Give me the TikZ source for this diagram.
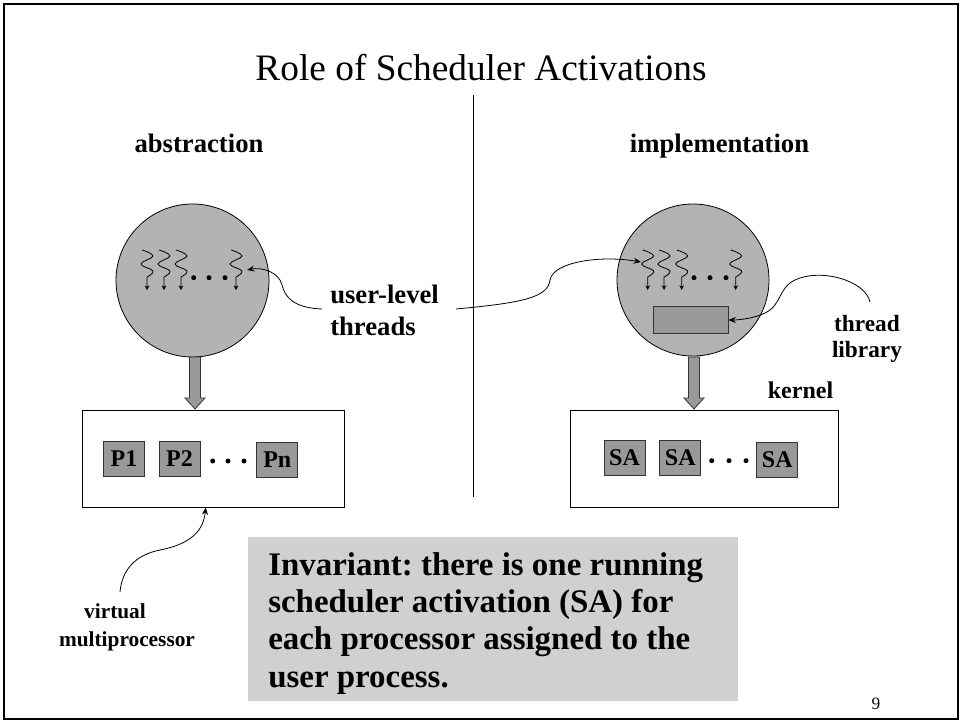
\documentclass[tikz,border=0pt]{standalone}
\usepackage{fontspec}
\setmainfont{Liberation Serif}
\usetikzlibrary{arrows.meta}
\frenchspacing
\definecolor{circfill}{HTML}{B3B3B3}
\definecolor{boxfill}{HTML}{999999}
\definecolor{notefill}{HTML}{D0D0D0}
\newcommand{\fs}[2]{\fontsize{#1}{#2}\selectfont}
\newcommand{\twoc}[2]{\vtop{\halign{\hfil##\hfil\cr #1\cr #2\cr}}}
\newcommand{\twol}[2]{\vtop{\halign{##\hfil\cr #1\cr #2\cr}}}
\tikzset{
  lbl/.style={inner sep=0pt, font=\bfseries\fs{20}{24}},
  pbox/.style={draw=black!80, fill=boxfill, minimum width=30.75pt, minimum height=26.6pt, inner sep=0pt, line width=0.6pt, font=\bfseries\fs{18}{20}},
  tdot/.style={circle, fill=black, inner sep=0pt, minimum size=3.75pt},
  conn/.style={-{Stealth[length=5.5pt,width=4.5pt]}, line width=0.6pt},
  bigbox/.style={draw, fill=white, inner sep=0pt, line width=0.6pt},
  uthread/.pic={\draw[-{Stealth[length=3.5pt,width=3.5pt]}, line width=0.6pt] plot[smooth, tension=0.7] coordinates {(-5,-40) (6,-34) (-6,-26) (6,-19) (0,-13)} -- (0,0);},
  blockarrow/.pic={\draw[fill=boxfill, draw=black!80, line width=0.6pt] (0,0) -- (-10,-11) -- (-5.5,-11) -- (-5.5,-52) -- (5.5,-52) -- (5.5,-11) -- (10,-11) -- cycle;}
}
\begin{document}
\begin{tikzpicture}[x=0.75pt,y=-0.75pt]
\useasboundingbox (0,0) rectangle (961,724);
\draw[line width=1.5pt] (4,4) rectangle (958,719);

% title and headings
\node[anchor=base, inner sep=0pt, font=\fs{28}{30}] (title) at (481,81) {Role of Scheduler Activations};
\node[lbl, anchor=base] (abs) at (199,152) {abstraction};
\node[lbl, anchor=base] (impl) at (719.5,152) {implementation};
\draw[line width=0.6pt] (473,95) -- (473,497);

% circles
\node[circle, draw, fill=circfill, inner sep=0pt, minimum size=114.75pt, line width=0.6pt] (lc) at (192.5,280.5) {};
\node[circle, draw, fill=circfill, inner sep=0pt, minimum size=114pt, line width=0.6pt] (rc) at (693,280) {};

% threads
\foreach \a in {147,164,181,236} { \pic at (\a,290) {uthread}; }
\foreach \a in {647.7,664,681.7,735.7} { \pic at (\a,290) {uthread}; }
\node[tdot] (ld1) at (193.7,277.7) {};
\node[tdot] (ld2) at (209,277.7) {};
\node[tdot] (ld3) at (225,277.7) {};
\node[tdot] (rd1) at (694,277.7) {};
\node[tdot] (rd2) at (710,277.7) {};
\node[tdot] (rd3) at (726,277.7) {};

% thread library box
\node[draw=black!80, fill=boxfill, inner sep=0pt, minimum width=56.25pt, minimum height=20pt, line width=0.6pt] (tl) at (690.5,320) {};

% block arrows
\pic at (195,409) {blockarrow};
\pic at (694,409) {blockarrow};

% big boxes
\node[bigbox, minimum width=196.5pt, minimum height=72.75pt] (vm) at (213,458.5) {};
\node[bigbox, minimum width=200.5pt, minimum height=72.75pt] (kb) at (704.3,458.5) {};

\node[pbox] (p1) at (124,459) {P1};
\node[pbox] (p2) at (179.5,459) {P2};
\node[pbox] (pn) at (277.3,460) {Pn};
\node[tdot] (bd1) at (212.7,461) {};
\node[tdot] (bd2) at (228,461) {};
\node[tdot] (bd3) at (244,461) {};

\node[pbox] (sa1) at (624.5,458) {SA};
\node[pbox] (sa2) at (680.3,458) {SA};
\node[pbox] (sa3) at (777.3,460) {SA};
\node[tdot] (kd1) at (711.7,460.7) {};
\node[tdot] (kd2) at (729,460.7) {};
\node[tdot] (kd3) at (746,460.7) {};

% labels
\node[lbl, anchor=base west] (ul) at (330,303) {\twol{user-level}{threads}};
\node[inner sep=0pt, anchor=base, font=\bfseries\fs{17.5}{20}] (tlab) at (867,331) {\twoc{thread}{library}};
\node[inner sep=0pt, anchor=base, font=\bfseries\fs{18}{20}] (kern) at (800.5,398) {kernel};
\node[inner sep=0pt, anchor=base, font=\bfseries\fs{16}{21.5}] (vmlab) at (127,618) {\twoc{virtual\kern18pt}{multiprocessor}};

% connectors
\coordinate (ulL) at (322,309);
\coordinate (ulR) at (456,309);
\coordinate (thL) at (247,270);
\coordinate (thR) at (641,262);
\coordinate (tlS) at (870,302);
\coordinate (vmS) at (120,592);
\coordinate (vmX) at (205.7,0);
\draw[conn] (ulL) .. controls (295,308) and (285,298) .. (282,285) .. controls (279,272) and (262,267) .. (thL);
\draw[conn] (ulR) .. controls (520,303) and (548,298) .. (550,280) .. controls (553,262) and (600,255) .. (thR);
\draw[conn] (tlS) .. controls (865,280) and (820,268) .. (795,280) .. controls (778,288) and (782,305) .. (765,313) .. controls (755,318) and (740,320) .. (tl.east);
\draw[conn] (vmS) .. controls (122,570) and (135,555) .. (160,550) .. controls (185,545) and (203,535) .. (vmX |- vm.south);

% invariant note
\node[fill=notefill, inner sep=0pt, minimum width=367.5pt, minimum height=123pt] (invbox) at (493,619) {};
\node[inner sep=0pt, anchor=base west, font=\bfseries\fs{24.7}{28}] (inv) at (268,575) {\vtop{\hbox{Invariant: there is one running}\hbox{scheduler activation (SA) for}\hbox{each processor assigned to the}\hbox{user process.}}};

\node[inner sep=0pt, anchor=base, font=\fs{13}{15}] (pg) at (876,709) {9};
\end{tikzpicture}
\end{document}
